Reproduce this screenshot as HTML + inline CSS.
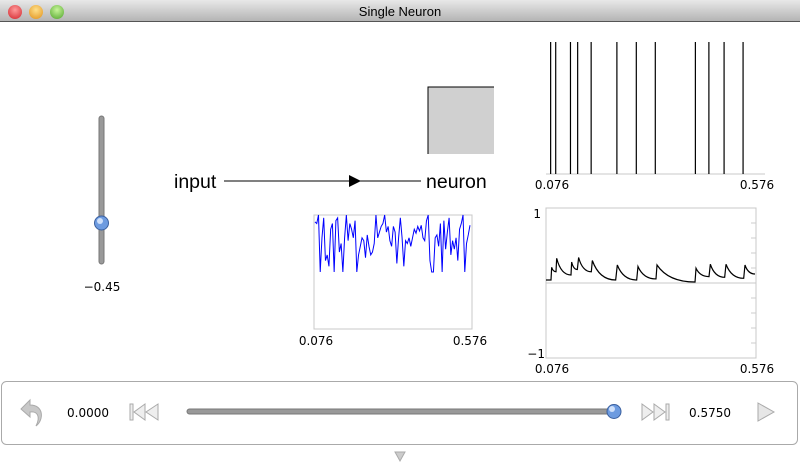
<!DOCTYPE html>
<html><head><meta charset="utf-8"><style>
body{margin:0;width:800px;height:469px;background:#fff;font-family:"Liberation Sans",sans-serif;overflow:hidden;position:relative}
.t{position:absolute;font-size:13px;color:#000}
svg text.s{font-family:"DejaVu Sans",sans-serif;font-size:12px}
</style></head><body>
<div style="position:absolute;left:0;top:0;width:800px;height:21px;background:linear-gradient(#e8e8e8,#b4b4b4);border-bottom:1px solid #555"></div>
<div class="t" style="left:0;width:800px;top:4px;text-align:center;font-size:13px">Single Neuron</div>
<div style="position:absolute;left:8px;top:5px;width:14px;height:14px;border-radius:50%;background:radial-gradient(circle at 50% 35%,#ff9a9a,#d2232a)"></div>
<div style="position:absolute;left:29px;top:5px;width:14px;height:14px;border-radius:50%;background:radial-gradient(circle at 50% 35%,#ffe08a,#e0901a)"></div>
<div style="position:absolute;left:50px;top:5px;width:14px;height:14px;border-radius:50%;background:radial-gradient(circle at 50% 35%,#c8f59a,#4fa32a)"></div>

<svg id="main" width="800" height="469" style="position:absolute;left:0;top:0" xmlns="http://www.w3.org/2000/svg" font-family="Liberation Sans, sans-serif">
<g>
<rect x="99" y="116" width="5" height="148" rx="2.5" fill="#999" stroke="#777"/>
<circle cx="101.5" cy="223" r="7" fill="#6d9be0" stroke="#3a5f9e"/>
<circle cx="100" cy="221" r="3" fill="#cfe0fa"/>
</g>
<text class="s" x="102" y="291" text-anchor="middle">−0.45</text>

<text x="174" y="188" font-size="19.5">input</text>
<line x1="224" y1="181" x2="421" y2="181" stroke="#000"/>
<polygon points="349,175 361,181 349,187" fill="#000"/>
<text x="426" y="188" font-size="19.5">neuron</text>
<g>
<rect x="428" y="87" width="66" height="67" fill="#d0d0d0"/>
<path d="M428,154 V87 H494" fill="none" stroke="#000"/>
</g>

<rect x="314" y="215" width="158" height="114" fill="none" stroke="#c8c8c8"/>
<g id="inputTrace"></g>
<text class="s" x="316" y="345" text-anchor="middle">0.076</text>
<text class="s" x="470" y="345" text-anchor="middle">0.576</text>

<line x1="546" y1="174" x2="765" y2="174" stroke="#c8c8c8"/>
<g id="raster"></g>
<text class="s" x="552" y="189" text-anchor="middle">0.076</text>
<text class="s" x="757" y="189" text-anchor="middle">0.576</text>

<rect x="546" y="208" width="210" height="150" fill="none" stroke="#c8c8c8"/>
<g id="vticks"></g>
<line x1="546" y1="283" x2="756" y2="283" stroke="#c8c8c8"/>
<g id="vTrace"></g>
<text class="s" x="541" y="218" text-anchor="end">1</text>
<text class="s" x="545" y="358" text-anchor="end">−1</text>
<text class="s" x="552" y="373" text-anchor="middle">0.076</text>
<text class="s" x="757" y="373" text-anchor="middle">0.576</text>

<g>
<rect x="1.5" y="381.5" width="796" height="63" rx="5" fill="#fff" stroke="#aaa"/>
</g>
<g>
<path d="M30,400 L21,409 L30,417 V412 C37,411 41,416 36,426 C44,420 44,405 30,405 Z" fill="#c8c8c8" stroke="#aaa"/>
</g>
<text class="s" x="67" y="417">0.0000</text>
<g fill="#eee" stroke="#aaa">
<rect x="130" y="404" width="3" height="16"/>
<polygon points="145,404 134,412 145,420"/><polygon points="158,404 146,412 158,420"/>
</g>
<g>
<rect x="187" y="409" width="428" height="5" rx="2.5" fill="#999" stroke="#777"/>
<circle cx="614" cy="411.5" r="7" fill="#6d9be0" stroke="#3a5f9e"/>
<circle cx="612" cy="409" r="3" fill="#cfe0fa"/>
</g>
<g fill="#eee" stroke="#aaa">
<polygon points="642,404 653,412 642,420"/><polygon points="654,404 665,412 654,420"/>
<rect x="666" y="404" width="3" height="16"/>
</g>
<text class="s" x="689" y="417">0.5750</text>
<polygon points="758,403 774,412 758,421" fill="#e6e6e6" stroke="#aaa"/>
<polygon points="395,452 405,452 400,461" fill="#ccc" stroke="#aaa"/>
</svg>
<script>
const NS="http://www.w3.org/2000/svg";
const spikeTimes=[0.087,0.099,0.134,0.151,0.183,0.244,0.290,0.335,0.430,0.462,0.498,0.543];
const vTimes=[0.076,0.0879,0.0895,0.0998,0.1014,0.1355,0.1371,0.1506,0.1537,0.1839,0.1863,0.2419,0.2458,0.2919,0.2950,0.3379,0.3403,0.4308,0.4332,0.4641,0.4673,0.5014,0.5046,0.5467,0.5498,0.5736];
const vValues=[0.04,0.04,0.21,0.15,0.33,0.107,0.28,0.18,0.34,0.15,0.30,0.04,0.24,0.04,0.22,0.054,0.24,0.013,0.196,0.085,0.25,0.076,0.25,0.0625,0.24,0.12];
const inputValues=[0.88,0.85,1.0,0.0,0.6,0.95,0.2,0.3,0.1,0.75,0.85,0.0,0.9,0.95,0.35,0.5,0.0,0.6,1.0,0.55,0.85,0.75,0.6,0.9,0.0,0.3,0.45,0.6,0.55,0.25,0.65,0.45,0.3,0.35,0.5,1.0,0.6,0.7,0.8,0.85,1.0,0.7,0.8,0.55,0.45,0.8,0.7,0.15,0.6,0.95,0.6,0.1,0.55,0.5,0.6,0.45,0.6,0.75,0.68,0.8,0.72,0.82,0.6,0.55,0.9,1.0,0.2,0.0,0.0,0.6,0.65,0.45,0.85,0.0,0.9,0.4,0.7,0.95,0.3,0.55,0.4,0.6,0.2,0.75,0.85,1.0,0.0,0.5,0.65,0.82];
const tMin=0.076,tMax=0.576;
function el(tag,attrs,parent){const e=document.createElementNS(NS,tag);for(const k in attrs)e.setAttribute(k,attrs[k]);parent.appendChild(e);return e;}
const rx=t=>546+(t-tMin)/(tMax-tMin)*211;
const rg=document.getElementById('raster');
spikeTimes.forEach(t=>{const l=el('line',{x1:rx(t),x2:rx(t),y1:42,y2:174,stroke:'#000','stroke-width':1.2},rg);

});
const vx=t=>546+(t-tMin)/(tMax-tMin)*210;
const vy=v=>283-v*75;
const tk=document.getElementById('vticks');
for(let i=-4;i<=4;i++){if(i===0)continue;el('line',{x1:751,x2:756,y1:vy(i*0.2),y2:vy(i*0.2),stroke:'#ccc'},tk);}
let d='M'+vx(vTimes[0])+','+vy(vValues[0]);
for(let i=1;i<vTimes.length;i++){
  const x0=vx(vTimes[i-1]),y0=vy(vValues[i-1]),x1=vx(vTimes[i]),y1=vy(vValues[i]);
  if(y1>y0+1&&x1-x0>4){d+=' Q'+(x0+(x1-x0)*0.3)+','+y1+' '+x1+','+y1;}else d+=' L'+x1+','+y1;
}
const vp=el('path',{d:d,fill:'none',stroke:'#000','stroke-width':1.2},document.getElementById('vTrace'));


const ix=i=>315+i/(inputValues.length-1)*155;
const iy=v=>272-v*57;
const ip=el('polyline',{points:inputValues.map((v,i)=>ix(i)+','+iy(v)).join(' '),fill:'none',stroke:'#0000ff','stroke-width':1},document.getElementById('inputTrace'));


</script>
</body></html>
